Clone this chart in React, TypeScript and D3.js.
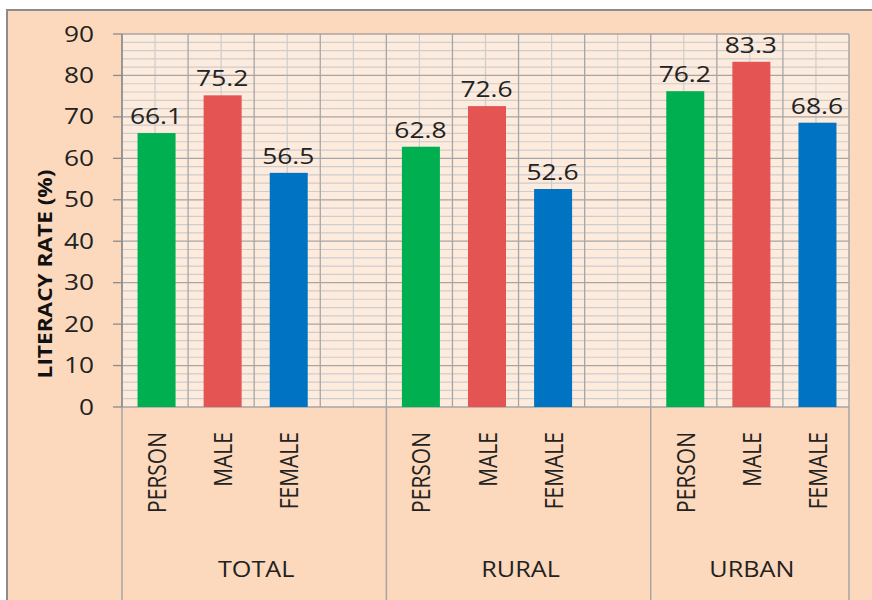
import React, { useEffect, useRef } from 'react';
import * as d3 from 'd3';

const groups = ['TOTAL', 'RURAL', 'URBAN'];
const categories = ['PERSON', 'MALE', 'FEMALE'];
const totalValues = [66.1, 75.2, 56.5];
const ruralValues = [62.8, 72.6, 52.6];
const urbanValues = [76.2, 83.3, 68.6];
const yTicks = [0, 10, 20, 30, 40, 50, 60, 70, 80, 90];

const barColors = ['#00B050', '#E35453', '#0074C3'];
const FONT = "'Open Sans', 'DejaVu Sans', sans-serif";
const SX = 1.25; // the picture is a bit wide, so text gets stretched sideways

const App = () => {
    const ref = useRef<SVGSVGElement>(null);

    useEffect(() => {
        const width = 872;
        const height = 600;
        const plot = { left: 122, right: 849, top: 34, bottom: 407 };

        const svg = d3.select(ref.current);
        svg.selectAll('*').remove();

        // one slot per bar, plus an empty slot after each group but the last
        const seriesByGroup = [totalValues, ruralValues, urbanValues];
        const slots: { key: string; group: number; cat: number; value: number | null }[] = [];
        groups.forEach((g, gi) => {
            categories.forEach((c, ci) => {
                slots.push({ key: g + '-' + c, group: gi, cat: ci, value: seriesByGroup[gi][ci] });
            });
            if (gi < groups.length - 1) slots.push({ key: g + '-gap', group: gi, cat: -1, value: null });
        });

        const x = d3.scaleBand()
            .domain(slots.map(s => s.key))
            .range([plot.left, plot.right])
            .paddingInner(0)
            .paddingOuter(0);
        const bw = x.bandwidth();
        const barW = bw * 0.575;

        const y = d3.scaleLinear().domain([0, 90]).range([plot.bottom, plot.top]);

        // outer frame
        svg.append('rect')
            .attr('x', 7).attr('y', 10)
            .attr('width', width).attr('height', height)
            .attr('fill', '#FCD9BC')
            .attr('stroke', '#8C8C8C')
            .attr('stroke-width', 2);

        // plot background
        svg.append('rect')
            .attr('x', plot.left).attr('y', plot.top)
            .attr('width', plot.right - plot.left).attr('height', plot.bottom - plot.top)
            .attr('fill', '#FDEBDD');

        const grid = svg.append('g');

        // minor horizontal lines every 2
        grid.selectAll('line.hmin')
            .data(d3.range(0, 91, 2).filter(v => v % 10 !== 0))
            .enter().append('line')
            .attr('x1', plot.left).attr('x2', plot.right)
            .attr('y1', d => y(d)).attr('y2', d => y(d))
            .attr('stroke', '#CDCDCD').attr('stroke-width', 1.2);

        // minor vertical lines at slot centres
        grid.selectAll('line.vmin')
            .data(slots)
            .enter().append('line')
            .attr('x1', d => x(d.key)! + bw / 2).attr('x2', d => x(d.key)! + bw / 2)
            .attr('y1', plot.top).attr('y2', plot.bottom)
            .attr('stroke', '#CDCDCD').attr('stroke-width', 1.2);

        // major vertical lines at slot edges
        grid.selectAll('line.vmaj')
            .data(slots.slice(1))
            .enter().append('line')
            .attr('x1', d => x(d.key)!).attr('x2', d => x(d.key)!)
            .attr('y1', plot.top).attr('y2', plot.bottom)
            .attr('stroke', '#A6A6A6').attr('stroke-width', 1.3);

        // major horizontal lines every 10
        grid.selectAll('line.hmaj')
            .data(yTicks)
            .enter().append('line')
            .attr('x1', plot.left).attr('x2', plot.right)
            .attr('y1', d => y(d)).attr('y2', d => y(d))
            .attr('stroke', '#A6A6A6').attr('stroke-width', 1.3);

        // right edge of plot
        svg.append('line')
            .attr('x1', plot.right).attr('x2', plot.right)
            .attr('y1', plot.top).attr('y2', height)
            .attr('stroke', '#A6A6A6').attr('stroke-width', 1.5);

        // group separators running down to the bottom
        const groupEdges = groups.map((g, gi) => x(slots.find(s => s.group === gi)!.key)!);
        svg.selectAll('line.gsep')
            .data(groupEdges)
            .enter().append('line')
            .attr('x1', d => d).attr('x2', d => d)
            .attr('y1', (d, i) => (i === 0 ? plot.top : plot.bottom)).attr('y2', height)
            .attr('stroke', '#A6A6A6').attr('stroke-width', 1.5);

        // bars
        const barSlots = slots.filter(s => s.value !== null);
        svg.selectAll('rect.bar')
            .data(barSlots)
            .enter().append('rect')
            .attr('x', d => x(d.key)! + (bw - barW) / 2 + 1.5)
            .attr('y', d => y(d.value!))
            .attr('width', barW)
            .attr('height', d => plot.bottom - y(d.value!))
            .attr('fill', d => barColors[d.cat]);

        // y axis ticks
        svg.selectAll('line.tick')
            .data(yTicks)
            .enter().append('line')
            .attr('x1', plot.left - 9).attr('x2', plot.left)
            .attr('y1', d => y(d)).attr('y2', d => y(d))
            .attr('stroke', '#8C8C8C').attr('stroke-width', 1.3);

        svg.append('line')
            .attr('x1', plot.left).attr('x2', plot.left)
            .attr('y1', plot.top).attr('y2', plot.bottom)
            .attr('stroke', '#8C8C8C').attr('stroke-width', 1.5);

        svg.selectAll('text.ytick')
            .data(yTicks)
            .enter().append('text')
            .attr('transform', d => `translate(94,${y(d)}) scale(${SX},1)`)
            .attr('dy', '0.36em')
            .attr('text-anchor', 'end')
            .style('font-family', FONT)
            .style('font-size', '21px')
            .style('fill', '#222')
            .text(d => d);

        // y title, stretched along its length
        svg.append('text')
            .attr('transform', `translate(52,274) rotate(-90) scale(1.16,1)`)
            .attr('text-anchor', 'middle')
            .style('font-family', FONT)
            .style('font-weight', 'bold')
            .style('font-size', '19.5px')
            .style('fill', '#111')
            .text('LITERACY RATE (%)');

        // value labels
        svg.selectAll('text.val')
            .data(barSlots)
            .enter().append('text')
            .attr('transform', d => `translate(${x(d.key)! + bw / 2 + 1},${y(d.value!) - 9}) scale(${SX - 0.05},1)`)
            .attr('text-anchor', 'middle')
            .style('font-family', FONT)
            .style('font-size', '22px')
            .style('fill', '#222')
            .text(d => d.value!.toFixed(1));

        // category labels, rotated
        svg.selectAll('text.cat')
            .data(barSlots)
            .enter().append('text')
            .attr('transform', d => `translate(${x(d.key)! + bw / 2 + 11},432) scale(${SX},1) rotate(-90)`)
            .attr('text-anchor', 'end')
            .style('font-family', FONT)
            .style('font-size', '21px')
            .style('fill', '#222')
            .text(d => categories[d.cat]);

        // group labels
        const groupRight = [...groupEdges.slice(1), plot.right];
        svg.selectAll('text.grp')
            .data(groups)
            .enter().append('text')
            .attr('transform', (d, i) => `translate(${(groupEdges[i] + groupRight[i]) / 2 + 2},577) scale(${SX - 0.05},1)`)
            .attr('text-anchor', 'middle')
            .style('font-family', FONT)
            .style('font-size', '21px')
            .style('fill', '#222')
            .text(d => d);
    }, []);

    return (
        <svg ref={ref} width={872} height={600}
            style={{ position: 'absolute', left: 0, top: 0, background: '#fff' }} />
    );
};

export default App;
